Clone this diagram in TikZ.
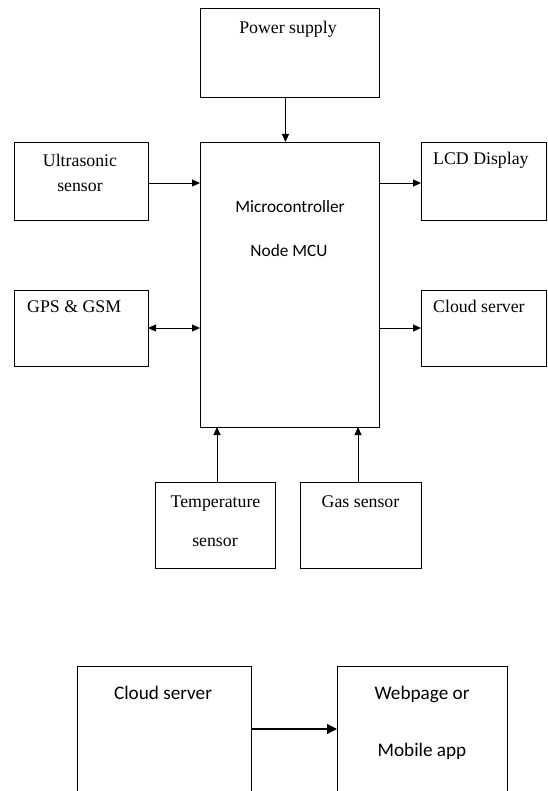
\documentclass[tikz,border=0pt]{standalone}
\usepackage{fontspec}
\setmainfont{Liberation Serif}
\newfontfamily\calibri{Carlito}
\usepackage{tikz}
\usetikzlibrary{arrows.meta}

\tikzset{
    blk/.style={draw, line width=0.9pt, inner sep=0pt, outer sep=0pt},
    tserif/.style={anchor=base, inner sep=0pt, font=\fontsize{17.8}{21}\selectfont},
    tsans/.style={anchor=base, inner sep=0pt, font=\calibri\fontsize{17.3}{21}\selectfont},
    tbig/.style={anchor=base, inner sep=0pt, font=\calibri\fontsize{19.2}{23}\selectfont},
    conn/.style={line width=0.9pt, -{Triangle[length=8pt,width=7pt]}},
    bconn/.style={line width=0.9pt, {Triangle[length=8pt,width=7pt]}-{Triangle[length=8pt,width=7pt]}}
}

\begin{document}
\begin{tikzpicture}[x=1pt, y=-1pt]
        \useasboundingbox (0,0) rectangle (547,791);
        \clip (0,0) rectangle (547,791);
        % blocks
        \node[blk, minimum width=179pt, minimum height=89pt] (ps) at (289.5,52.5) {};
        \node[blk, minimum width=179pt, minimum height=285pt] (mcu) at (289.5,284.5) {};
        \node[blk, minimum width=134pt, minimum height=78pt] (us) at (81,181) {};
        \node[blk, minimum width=125pt, minimum height=78pt] (lcd) at (483.5,181) {};
        \node[blk, minimum width=134pt, minimum height=76pt] (gps) at (81,328) {};
        \node[blk, minimum width=125pt, minimum height=76pt] (cs) at (483.5,328) {};
        \node[blk, minimum width=120pt, minimum height=86pt] (temp) at (215,525) {};
        \node[blk, minimum width=121pt, minimum height=86pt] (gas) at (360.5,525) {};
        \node[blk, minimum width=174pt, minimum height=134pt] (cloud) at (164,733) {};
        \node[blk, minimum width=170pt, minimum height=134pt] (web) at (422,733) {};
        % texts
        \node[tserif] (pstxt) at (288,34) {Power supply};
        \node[tsans] (mcutxta) at (290,213) {Microcontroller};
        \node[tsans] (mcutxtb) at (289,257) {Node MCU};
        \node[tserif] (ustxta) at (80,167) {Ultrasonic};
        \node[tserif] (ustxtb) at (80,192) {sensor};
        \node[tserif, anchor=base west] (lcdtxt) at (433,165) {LCD Display};
        \node[tserif, anchor=base west] (gpstxt) at (27,312) {GPS \& GSM};
        \node[tserif, anchor=base west] (cstxt) at (433,312) {Cloud server};
        \node[tserif] (temptxta) at (215.5,507) {Temperature};
        \node[tserif] (temptxtb) at (215,546) {sensor};
        \node[tserif] (gastxt) at (360.5,507) {Gas sensor};
        \node[tbig] (cloudtxt) at (163,699) {Cloud server};
        \node[tbig] (webtxta) at (422,699) {Webpage or};
        \node[tbig] (webtxtb) at (422,756) {Mobile app};
        % connectors
        \draw[conn] ([xshift=-4pt]ps.south) -- ([xshift=-4pt]mcu.north);
        \draw[conn] ([yshift=-2pt]us.east) -- ([yshift=-2pt]us.east -| mcu.west);
        \draw[conn] ([yshift=-2pt]mcu.east |- lcd.west) -- ([yshift=-2pt]lcd.west);
        \draw[bconn] (gps.east) -- (gps.east -| mcu.west);
        \draw[conn] (mcu.east |- cs.west) -- (cs.west);
        \draw[conn] ([xshift=2pt]temp.north) -- ([xshift=2pt]temp.north |- mcu.south);
        \draw[conn] ([xshift=-2.5pt]gas.north) -- ([xshift=-2.5pt]gas.north |- mcu.south);
        \draw[line width=1.4pt, -{Triangle[length=10pt,width=10pt]}] ([yshift=4pt]cloud.east) -- ([yshift=4pt]web.west);
    \end{tikzpicture}
\end{document}
